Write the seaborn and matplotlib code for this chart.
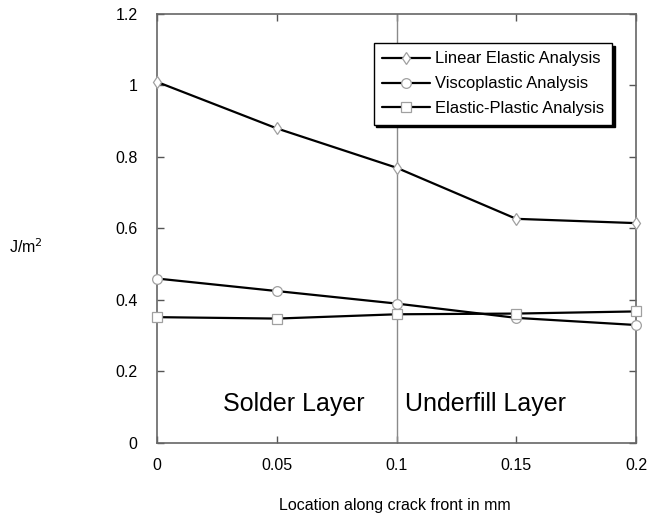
import pandas as pd
import matplotlib
matplotlib.use('Agg')
import matplotlib.pyplot as plt
import seaborn as sns

# Data
location = [0, 0.05, 0.1, 0.15, 0.2]
linear_elastic = [1.01, 0.88, 0.77, 0.627, 0.615]
viscoplastic = [0.46, 0.425, 0.39, 0.35, 0.33]
elastic_plastic = [0.352, 0.348, 0.36, 0.362, 0.368]

series_names = ['Linear Elastic Analysis', 'Viscoplastic Analysis', 'Elastic-Plastic Analysis']
series_markers = ['d', 'o', 's']
x_ticks = [0, 0.05, 0.1, 0.15, 0.2]
x_labels = ['0', '0.05', '0.1', '0.15', '0.2']
y_ticks = [0, 0.2, 0.4, 0.6, 0.8, 1.0, 1.2]
y_labels = ['0', '0.2', '0.4', '0.6', '0.8', '1', '1.2']

df = pd.DataFrame({
    'x': location * 3,
    'J': linear_elastic + viscoplastic + elastic_plastic,
    'series': [n for n in series_names for _ in location],
})

sns.set_style('ticks', {'text.color': 'black', 'xtick.color': 'black', 'ytick.color': 'black'})
plt.rcParams['font.family'] = ['Liberation Sans', 'DejaVu Sans']

fig = plt.figure(figsize=(6.47, 5.16), dpi=100)
ax = fig.add_axes([0.2427, 0.1415, 0.7403, 0.8314])

# ── vertical divider between layers ──
ax.axvline(0.1, color='#8a8a8a', lw=1.0, zorder=1)

for name, mk in zip(series_names, series_markers):
    sub = df[df['series'] == name]
    sns.lineplot(data=sub, x='x', y='J', ax=ax, color='black', lw=1.6,
                 marker=mk, markersize=7 if mk != 'd' else 6,
                 mfc='white', mec='#a0a0a0', mew=0.9, label=name,
                 zorder=3, clip_on=False)

ax.set_xlim(0, 0.2)
ax.set_ylim(0, 1.2)
ax.set_xticks(x_ticks)
ax.set_xticklabels(x_labels)
ax.set_yticks(y_ticks)
ax.set_yticklabels(y_labels)
ax.tick_params(axis='both', direction='in', length=5, width=1.0, color='#555555',
               labelcolor='black', labelsize=11.5, top=True, right=True)
ax.tick_params(axis='x', pad=11)
ax.tick_params(axis='y', pad=14)
for sp in ax.spines.values():
    sp.set_visible(True)
    sp.set_color('#666666')
    sp.set_linewidth(1.2)

ax.set_xlabel('')
ax.set_ylabel('')
fig.text(0.6105, 0.02, 'Location along crack front in mm', ha='center', va='center',
         fontsize=11.5, color='black')
fig.text(0.04, 0.522, 'J/m$^2$', ha='center', va='center', fontsize=11.5, color='black')

# ── layer labels ──
ax.text(0.057, 0.11, 'Solder Layer', ha='center', va='center', fontsize=18, color='black')
ax.text(0.137, 0.11, 'Underfill Layer', ha='center', va='center', fontsize=18, color='black')

leg = ax.legend(loc='upper right', bbox_to_anchor=(0.95, 0.932), borderaxespad=0,
                fancybox=False, shadow={'color': 'black', 'alpha': 1}, framealpha=1,
                edgecolor='black', fontsize=11.9, handlelength=2.9, handletextpad=0.3,
                labelspacing=0.6, borderpad=0.5)
leg.get_frame().set_linewidth(1.0)
for t in leg.get_texts():
    t.set_color('black')

fig.savefig('out.png', dpi=100)
